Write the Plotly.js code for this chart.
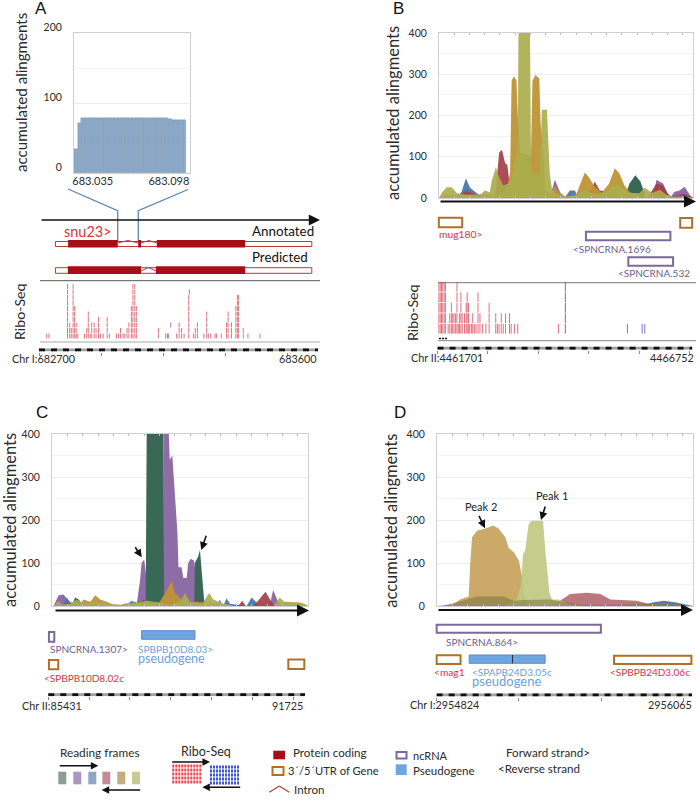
<!DOCTYPE html>
<html>
<head>
<meta charset="utf-8">
<script src="https://cdn.plot.ly/plotly-3.0.1.min.js"></script>
<style>body{margin:0;background:#fff}#chart{width:700px;height:801px}</style>
</head>
<body>
<div id="chart"></div>
<script>
// panel A, inset alignment counts (x = genome position)
const aCountX = [683021,683024,683027,683030,683033,683036,683039,683042,683045,683048,683051,683054,683057,683060,683063,683066,683069,683072,683075,683078,683081,683084,683087,683090,683093,683096,683099,683102,683105,683108,683111];
const aCountY = [35,72,79,79,79,79,79,79,79,79,79,79,79,79,79,79,79,79,79,79,79,79,79,79,78,78,77,76,76,76,76];

// panel B, reading frames (x = percent along the window)
const bPurpleX = [43.6,45.6,47.6,49,84.3,85.6,88.2,90.8,92.8,94.7,96.7,98.7,100];
const bPurpleY = [0,44,15,0,0,44,35,0,15,18,27,8,0];
const bBlueX = [7,8.9,10.6,12.2,14.8,16.8,18,49.5,51.5,53.5,54.8];
const bBlueY = [0,15,48,25,12,3,0,0,18,18,0];
const bGreenX = [73,75,77.3,79.3,81];
const bGreenY = [0,35,55,40,10];
const bRedX = [5.6,8.3,10.9,14.8,16.8,22,22.7,23.7,24.8,26,26.9,27.9,29.2,50,58,60,61.3,63.3,67.2,70,82,85.6,88.2,90.2,91.5,96,98.7,100];
const bRedY = [0,8,17,8,0,0,45,110,117,85,80,30,0,0,12,20,40,18,15,0,0,35,30,10,2,10,5,0];
const bGoldX = [0,3,8,25,27,28,28.6,29.5,30.5,31,32,35,36.2,36.8,38,39.5,40,41,42,44,45.6,47,50,54,56,57.4,59,61,64,67,69.2,71,73,75,80];
const bGoldY = [0,8,8,10,30,60,285,295,285,200,110,105,100,285,298,290,180,120,20,10,30,15,3,8,40,62,50,30,12,35,72,60,30,15,0];
const bOliveX = [0,1,3,5,7,11,16,18,20,20.7,22.4,23.3,25.3,27.3,28.6,30.1,31,31.3,35.8,36.2,36.8,39.7,40.5,42.5,43.6,44.5,46,50,54,57,60,63,67,69.5,72,75,79,81,84,87,89.5,92,97,100];
const bOliveY = [0,12,26,26,12,7,6,18,14,40,75,55,30,35,45,100,110,420,420,100,60,60,214,214,60,20,10,3,6,20,12,10,20,35,25,12,12,25,12,20,8,3,4,0];

// panel C, reading frames
const cPurpleX = [0.6,2.6,4.5,6.5,9,33,34.4,35,36,36.6,37,43.5,43.6,45.5,46,47,48,49,49.4,50.6,51.3,52.6,53.2,54.2,55.5,56.5,57.8,60,64.3,65.6,66.6,85,86.4,88.3,90];
const cPurpleY = [0,25,27,12,3,0,60,100,108,70,60,60,420,420,340,350,250,170,90,90,65,65,100,110,105,60,20,0,0,15,0,0,37,10,0];
const cBlueX = [3.9,5.8,7.4,29,31,33,34.4,66.9,68.2,69.5,76,78,79.9,81];
const cBlueY = [0,20,5,0,12,8,0,0,18,5,0,20,8,0];
const cGreenX = [7.8,9,10.4,11.7,36.6,36.8,37,43.5,43.8,44.8,55.6,55.8,57.1,57.8,58.6,59.4,60];
const cGreenY = [0,20,15,5,0,200,420,420,20,0,0,100,115,130,60,15,0];
const cRedX = [4.5,5.8,7.8,33.8,35.7,37.7,53.9,56.5,59,60.4,72.7,74.3,75.7,78.6,80.5,83.4,85.7,87];
const cRedY = [0,8,0,0,15,5,0,15,8,0,0,12,0,0,12,33,10,0];
const cGoldX = [10.4,12.3,15,16.9,18.8,21.4,24,26,28,31.8,37,41.6,44.2,46.8,48,50.6,53.9,57.8,63,65.6,70.8,89,90.9,94.2,96.8,100];
const cGoldY = [0,15,10,25,15,10,3,0,5,8,5,5,30,58,30,15,8,5,8,5,0,0,10,8,8,0];
const cOliveX = [0.6,2.6,3.9,7,9.7,12.3,18.8,26.6,31.8,37,42.2,46,50,52,53.9,59,61.4,63,67,69.5,70.8,86.4,89,91,95.5,98.7,100];
const cOliveY = [0,12,3,5,15,5,8,3,5,12,8,3,10,30,10,8,30,15,5,3,0,0,20,8,8,5,0];

// panel D, reading frames
const dBlueX = [80.7,84,88.5,93,97.7,100];
const dBlueY = [0,8,12,9,3,0];
const dRedX = [44,48.8,52,58.6,63.8,67.7,78,82,91,100];
const dRedY = [0,15,28,31,28,15,12,6,3,0];
const dTanX = [0,6.5,9,12.4,13,13.7,15.6,18.9,22,24,26.7,28,30,32,33.2,33.9,35,36.5];
const dTanY = [0,5,15,22,100,160,175,180,187,180,160,135,125,105,70,30,5,0];
const dPaleX = [26,31,32.8,33.6,34.5,35.8,36.8,41.4,42.3,43,43.9,45,47.5,52,57];
const dPaleY = [0,15,50,120,130,190,198,198,130,80,30,15,15,3,0];
const dDarkX = [2.6,9,15.6,26,30,33.9,44,50.8,57.3,65,78,84.6,91,100];
const dDarkY = [0,10,22,22,12,14,15,8,3,2,5,8,8,0];

// gene tracks, positions are bp from the start of each window
const aUtr = [53,880];
const aCdsAnnotated = [[94,254],[320,329],[380,665]];
const aIntronAnnotated = [[254,320],[329,380]];
const aCdsPredicted = [[93,329],[377,665]];
const aIntronPredicted = [[329,377]];
const aRiboPos = [25,32,92,99,104,110,115,120,125,147,154,159,165,170,178,184,192,198,207,220,227,250,257,263,277,284,290,298,303,309,314,385,417,444,452,460,468,483,498,504,511,541,546,554,568,573,588,605,610,621,635,640,644,659,674,713];
const aRiboDepth = [1,1,10,3,2,10,6,3,1,1,2,5,1,3,3,2,4,1,1,4,1,1,1,2,1,2,3,6,10,10,6,2,1,1,3,2,1,8,1,2,3,5,1,1,1,1,1,3,5,3,6,8,8,2,1,1];
const aRiboBluePos = [271,409,415,425,485,532];
const aRiboBlueRow = [1,1,1,3,9,1];

const bUtr = [[25,489],[4815,5051]];
const bNcrna = [[2944,4620],[3785,4673]];
const bRiboPos = [26,52,78,104,130,156,209,241,274,300,326,358,385,411,437,463,489,534,567,587,613,639,671,697,730,763,802,841,893,958,1023,1154,1186,1219,1264,1303,1349,1427,1460,1525,1590,2398];
const bRiboDepth = [5,5,5,5,5,5,1,2,3,2,2,2,5,1,2,4,2,2,3,4,3,1,1,2,1,1,4,2,1,1,3,2,1,1,2,1,2,2,1,1,1,1];
const bRiboGrayPos = [2535];
const bRiboGrayDepth = [5];
const bRiboBluePos = [3767,4060,4112];
const bRiboBlueRow = [1,1,1];

const cNcrna = [[16,147]];
const cPseudo = [[2288,3596]];
const cUtr = [[16,245],[5885,6277]];

const dNcrna = [[0,798]];
const dUtr = [[0,116],[862,1238]];
const dPseudo = [[158,527]];
const dPseudoMark = 368;

const W = 700, H = 801;
const fx = p => p / W;
const fy = p => 1 - p / H;

const PURPLE = 'rgba(136,100,160,0.95)', BLUE = 'rgba(72,120,170,0.95)', GREEN = 'rgba(58,104,86,1)';
const RED = 'rgba(165,62,72,0.92)', GOLD = 'rgba(190,148,52,0.95)', OLIVE = 'rgba(170,174,76,0.92)';
const TXT = '#2b2b2b', REDTXT = '#e2323c', PURTXT = '#6d5d8e', BLUTXT = '#6f9fd8';
const UTRC = '#b0702a', NCC = '#7a6a9c', PSEC = '#6fa5e0', CDSC = '#a50f15', INTC = '#c0392b';
const SANS = 'Lato, sans-serif';
const LETTER = {size: 17, color: '#111', family: 'Liberation Sans'};

const traces = [], shapes = [], annotations = [];
const layout = {
  width: W, height: H, margin: {l: 0, r: 0, t: 0, b: 0}, showlegend: false,
  paper_bgcolor: '#fff', plot_bgcolor: 'rgba(0,0,0,0)', bargap: 0,
  font: {family: SANS, color: TXT}, shapes, annotations
};

function text(str, x, y, size, color, anchor, extra) {
  annotations.push(Object.assign({
    text: str, x: fx(x), y: fy(y), xref: 'paper', yref: 'paper', showarrow: false,
    xanchor: anchor || 'left', yanchor: 'middle', borderpad: 0,
    font: {size, color: color || TXT, family: SANS}
  }, extra || {}));
}

function arrow(x0, y0, x1, y1, width, size) {
  annotations.push({
    text: '', x: fx(x1), y: fy(y1), xref: 'paper', yref: 'paper', showarrow: true,
    ax: x0 - x1, ay: y0 - y1, axref: 'pixel', ayref: 'pixel',
    arrowhead: 2, arrowsize: size || 1, arrowwidth: width || 2, arrowcolor: '#111', standoff: 0
  });
}

function paperRect(x0, y0, x1, y1, line, fill, lw) {
  shapes.push({type: 'rect', xref: 'paper', yref: 'paper', x0: fx(x0), x1: fx(x1), y0: fy(y0), y1: fy(y1),
    line: {color: line, width: lw === undefined ? 2 : lw}, fillcolor: fill});
}

function paperLine(x0, y0, x1, y1, color, width, dash) {
  shapes.push({type: 'line', xref: 'paper', yref: 'paper', x0: fx(x0), x1: fx(x1), y0: fy(y0), y1: fy(y1),
    line: {color, width, dash: dash || 'solid'}});
}

// signal panel: area traces over a framed plot
function signalAxes(n, x0, x1, y0, y1, yMax) {
  const s = n === 1 ? '' : n;
  layout['xaxis' + s] = {
    domain: [fx(x0), fx(x1)], range: [0, 100], anchor: 'y' + s, showgrid: false, zeroline: false,
    showticklabels: false, ticks: 'inside', ticklen: 2, tickcolor: '#bbb', dtick: 6,
    showline: true, linecolor: '#cfcfcf', mirror: 'ticks'
  };
  layout['yaxis' + s] = {
    domain: [fy(y1), fy(y0)], range: [0, yMax], anchor: 'x' + s, tickvals: [0,100,200,300,400],
    ticktext: ['0','100','200','300','400'], ticks: '', ticklabelstandoff: 9, gridcolor: '#ececec', zeroline: false,
    minor: {dtick: 50, showgrid: true, gridcolor: '#f3f3f3'},
    showline: true, linecolor: '#cfcfcf', mirror: true, tickfont: {size: 10.5, color: TXT, family: SANS}
  };
}

function area(n, xs, ys, color) {
  const s = n === 1 ? '' : n;
  traces.push({type: 'scatter', mode: 'lines', x: xs, y: ys, xaxis: 'x' + s, yaxis: 'y' + s,
    fill: 'tozeroy', fillcolor: color, line: {width: 0}, hoverinfo: 'skip'});
}

// gene track: genome axis under the ribo-seq rows and the ruler
function trackAxes(n, x0, x1, span, rulerY, topY, baseY, rowH, dtick) {
  const pad = 8, perPx = span / (x1 - x0);
  const bottom = rulerY + 1.5;
  const toRow = p => 1 + (baseY - p) / rowH;
  layout['xaxis' + n] = {
    domain: [fx(x0 - pad), fx(x1 + pad)], range: [-pad * perPx, span + pad * perPx], anchor: 'y' + n,
    showgrid: false, zeroline: false, showticklabels: false, ticks: 'outside', ticklen: 3,
    tickcolor: '#888', tick0: 0, dtick, showline: false
  };
  layout['yaxis' + n] = {
    domain: [fy(bottom), fy(topY)], range: [toRow(bottom), toRow(topY)], anchor: 'x' + n,
    visible: false, showgrid: false, zeroline: false
  };
  const rulerAt = toRow(rulerY);
  traces.push({type: 'scatter', mode: 'lines', x: [0, span], y: [rulerAt, rulerAt], xaxis: 'x' + n, yaxis: 'y' + n,
    line: {color: '#a0a0a0', width: 3}, hoverinfo: 'skip'});
  traces.push({type: 'scatter', mode: 'lines', x: [0, span], y: [rulerAt, rulerAt], xaxis: 'x' + n, yaxis: 'y' + n,
    line: {color: '#111', width: 3, dash: '6px,6px'}, hoverinfo: 'skip'});
}

function riboStack(n, pos, depth, color, size) {
  const xs = [], ys = [];
  pos.forEach((p, i) => { for (let r = 1; r <= depth[i]; r++) { xs.push(p); ys.push(r); } });
  riboPoints(n, xs, ys, color, size);
}

function riboPoints(n, xs, ys, color, size) {
  traces.push({type: 'scatter', mode: 'markers', x: xs, y: ys, xaxis: 'x' + n, yaxis: 'y' + n, cliponaxis: false,
    marker: {symbol: 'line-ns', size, color, line: {color, width: 1}}, hoverinfo: 'skip'});
}

function geneBox(n, range, y0, y1, line, fill, lw) {
  shapes.push({type: 'rect', xref: 'x' + n, yref: 'paper', x0: range[0], x1: range[1], y0: fy(y1), y1: fy(y0),
    line: {color: line, width: lw}, fillcolor: fill});
}

function intron(n, range, yBase, yPeak) {
  const mid = (range[0] + range[1]) / 2;
  shapes.push({type: 'line', xref: 'x' + n, yref: 'paper', x0: range[0], x1: mid, y0: fy(yBase), y1: fy(yPeak), line: {color: INTC, width: 1}});
  shapes.push({type: 'line', xref: 'x' + n, yref: 'paper', x0: mid, x1: range[1], y0: fy(yPeak), y1: fy(yBase), line: {color: INTC, width: 1}});
}

// ---------- panel A ----------
signalAxes(1, 74, 190, 33, 173, 200);
layout.xaxis.range = [683019.5, 683115.5];
layout.xaxis.tickvals = [683035, 683098];
layout.xaxis.ticktext = ['683.035', '683.098'];
layout.xaxis.showticklabels = true;
layout.xaxis.ticks = '';
layout.xaxis.mirror = true;
layout.xaxis.ticklabelstandoff = -2;
layout.xaxis.tickfont = {size: 11, color: TXT, family: SANS};
layout.yaxis.tickvals = [0, 100, 200];
layout.yaxis.ticktext = ['0', '100', '200'];
layout.yaxis.ticklabelshift = -6;
traces.push({type: 'bar', x: aCountX, y: aCountY, width: 3, xaxis: 'x', yaxis: 'y',
  marker: {color: '#8ba8c6', line: {color: 'rgba(120,146,178,0.7)', width: 0.5}}, hoverinfo: 'skip'});

trackAxes(2, 39, 318, 900, 350, 281, 336, 5.5, 200);
riboStack(2, aRiboPos, aRiboDepth, '#e4707c', 3.5);
riboPoints(2, aRiboBluePos, aRiboBlueRow, '#7f83d8', 3.5);

// zoom lines from the inset down to the gene
shapes.push({type: 'path', xref: 'paper', yref: 'paper', line: {color: '#5b86b5', width: 1.3},
  path: `M${fx(68)},${fy(189)} L${fx(117.7)},${fy(210.7)} L${fx(117.7)},${fy(241.7)}`});
shapes.push({type: 'path', xref: 'paper', yref: 'paper', line: {color: '#5b86b5', width: 1.3},
  path: `M${fx(188)},${fy(189.5)} L${fx(138.3)},${fy(210.7)} L${fx(138.3)},${fy(241.7)}`});
arrow(40, 220, 320, 220, 1.6, 1.4);

geneBox(2, aUtr, 241.5, 246.5, INTC, '#fff', 1);
aCdsAnnotated.forEach(c => geneBox(2, c, 240, 247.5, CDSC, CDSC, 0));
aIntronAnnotated.forEach(c => intron(2, c, 243, 240.5));
geneBox(2, aUtr, 267.7, 273.3, INTC, '#fff', 1);
aCdsPredicted.forEach(c => geneBox(2, c, 266.3, 274, CDSC, CDSC, 0));
aIntronPredicted.forEach(c => intron(2, c, 271, 267.5));
paperLine(40, 280.7, 320, 280.7, '#555', 1);
paperLine(40, 342, 320, 342, '#aaa', 1);

text('A', 41, 8, 17, '#111', 'center', {font: LETTER});
text('accumulated alingments', 21, 93, 15.1, TXT, 'center', {textangle: -90});
text('snu23&gt;', 63, 231, 14.5, REDTXT);
text('Annotated', 315, 231.5, 13.4, '#111', 'right');
text('Predicted', 309, 257, 13.3, '#111', 'right');
text('Ribo-Seq', 19, 312, 14.2, TXT, 'center', {textangle: -90});
text('Chr I:682700', 11, 358.5, 10.8);
text('683600', 318, 358.5, 10.8, TXT, 'right');

// ---------- panel B ----------
signalAxes(3, 439, 693, 33, 198, 400);
area(3, bPurpleX, bPurpleY, PURPLE);
area(3, bBlueX, bBlueY, BLUE);
area(3, bGreenX, bGreenY, GREEN);
area(3, bRedX, bRedY, RED);
area(3, bGoldX, bGoldY, GOLD);
area(3, bOliveX, bOliveY, OLIVE);
arrow(439, 201.5, 696, 201.5, 2, 1.2);

trackAxes(4, 437.7, 696, 5051, 348.3, 282.7, 328.7, 10.5, 1000);
riboStack(4, bRiboPos, bRiboDepth, '#e4707c', 7);
riboStack(4, bRiboGrayPos, bRiboGrayDepth, '#777', 7);
riboPoints(4, bRiboBluePos, bRiboBlueRow, '#7a78c8', 7);
paperLine(438, 282.7, 696, 282.7, '#777', 1);
paperLine(438, 340.7, 696, 340.7, '#888', 1);
paperLine(439, 338.5, 448, 338.5, '#111', 1.5, '2px,1px');

geneBox(4, bUtr[0], 217.7, 227.3, UTRC, '#fff', 2);
geneBox(4, bUtr[1], 218, 227.7, UTRC, '#fff', 2);
geneBox(4, bNcrna[0], 231.7, 240.3, NCC, '#fff', 2);
geneBox(4, bNcrna[1], 257.3, 265.7, NCC, '#fff', 2);

text('B', 399, 8, 17, '#111', 'center', {font: LETTER});
text('accumulated alingments', 393, 113, 16.5, TXT, 'center', {textangle: -90});
text('mug180&gt;', 438, 234, 10.3, REDTXT);
text('&lt;SPNCRNA.1696', 611.7, 249, 10, PURTXT, 'center');
text('&lt;SPNCRNA.532', 690.7, 272.7, 10, PURTXT, 'right');
text('Ribo-Seq', 412, 312, 14.2, TXT, 'center', {textangle: -90});
text('Chr II:4461701', 410, 357.7, 10.8);
text('4466752', 695, 357.7, 10.8, TXT, 'right');

// ---------- panel C ----------
signalAxes(5, 52, 308, 434, 606, 400);
area(5, cPurpleX, cPurpleY, PURPLE);
area(5, cBlueX, cBlueY, BLUE);
area(5, cGreenX, cGreenY, GREEN);
area(5, cRedX, cRedY, RED);
area(5, cGoldX, cGoldY, GOLD);
area(5, cOliveX, cOliveY, OLIVE);
arrow(54, 610.6, 309, 610.6, 2, 1.2);
arrow(134.3, 545.7, 141.7, 557.3, 1.6, 1);
arrow(206.7, 534.3, 201.3, 550, 1.6, 1);

trackAxes(6, 48.3, 305, 6294, 694.7, 690, 694.7, 1, 1000);
geneBox(6, cNcrna[0], 632, 641.7, NCC, '#fff', 2);
geneBox(6, cPseudo[0], 630.7, 639.3, '#5a8cc6', PSEC, 1);
geneBox(6, cUtr[0], 660, 669.3, UTRC, '#fff', 2);
geneBox(6, cUtr[1], 659.5, 669, UTRC, '#fff', 2);

text('C', 41.7, 412.7, 17, '#111', 'center', {font: LETTER});
text('accumulated alingments', 10, 520, 16.5, TXT, 'center', {textangle: -90});
text('SPNCRNA.1307&gt;', 48.7, 649, 10, PURTXT);
text('SPBPB10D8.03&gt;', 136.7, 648.7, 10, BLUTXT);
text('pseudogene', 136.7, 658.5, 12.5, BLUTXT);
text('&lt;SPBPB10D8.02c', 42.7, 678.3, 10, REDTXT);
text('Chr II:85431', 21.3, 705, 10.8);
text('91725', 304, 705, 10.8, TXT, 'right');

// ---------- panel D ----------
signalAxes(7, 437, 693, 434, 606, 400);
area(7, dBlueX, dBlueY, 'rgba(72,110,170,0.9)');
area(7, dRedX, dRedY, 'rgba(182,104,112,0.9)');
area(7, dTanX, dTanY, 'rgba(200,166,100,0.97)');
area(7, dPaleX, dPaleY, 'rgba(192,200,130,0.92)');
area(7, dDarkX, dDarkY, 'rgba(128,122,60,0.6)');
arrow(437, 610, 693, 610, 2, 1.2);
arrow(478.3, 514.3, 485, 528.3, 1.6, 1);
arrow(545.7, 505, 541, 520, 1.6, 1);
text('Peak 2', 481, 506, 11, '#222', 'center');
text('Peak 1', 552.3, 496, 11, '#222', 'center');

trackAxes(8, 436.7, 693.3, 1241, 695, 690, 695, 1, 400);
geneBox(8, dNcrna[0], 624.7, 632.7, NCC, '#fff', 2);
geneBox(8, dUtr[0], 655.3, 664, UTRC, '#fff', 2);
geneBox(8, dUtr[1], 655.7, 664, UTRC, '#fff', 2);
geneBox(8, dPseudo[0], 655, 663.3, '#5a8cc6', PSEC, 1);
geneBox(8, [dPseudoMark - 2, dPseudoMark + 2], 655, 663.3, '#111', '#111', 0);

text('D', 400, 412.7, 17, '#111', 'center', {font: LETTER});
text('accumulated alingments', 391, 520.7, 16.5, TXT, 'center', {textangle: -90});
text('SPNCRNA.864&gt;', 445, 641.7, 10, PURTXT);
text('&lt;mag1', 433.3, 672, 10.2, REDTXT);
text('&lt;SPAPB24D3.05c', 470.7, 671.5, 10, BLUTXT);
text('pseudogene', 470.7, 681, 13, BLUTXT);
text('&lt;SPBPB24D3.06c', 690.7, 672, 10, REDTXT, 'right');
text('Chr I:2954824', 409.3, 704.7, 10.8);
text('2956065', 693.3, 704.7, 10.8, TXT, 'right');

// ---------- key ----------
text('Reading frames', 100, 752.7, 11.8, TXT, 'center');
arrow(58.3, 765.7, 98.3, 765.7, 1.5, 1);
arrow(141.7, 790, 101.7, 790, 1.5, 1);
[[58.3,'#8aa092'],[73.3,'#a898bf'],[88.3,'#8ea8c4'],[102.3,'#c08e96'],[117.3,'#c4ad7e'],[132,'#c4cc94']].forEach(s =>
  paperRect(s[0], 771.7, s[0] + 8, 784.3, s[1], s[1], 0));

text('Ribo-Seq', 205.7, 751.7, 12.5, TXT, 'center');
[766, 770, 774, 778, 782].forEach(y => {
  paperLine(172.3, y, 202.3, y, '#e8454f', 3, '2px,1px');
  paperLine(210, y + 1, 239, y + 1, '#3d55d8', 3, '2px,1px');
});
arrow(170.7, 762, 210, 762, 1.5, 1);
arrow(241.7, 787.3, 202.3, 787.3, 1.5, 1);

paperRect(273.3, 750.7, 285, 759.3, CDSC, CDSC, 0);
text('Protein coding', 291.7, 752.7, 11.6);
paperRect(272.5, 767, 283.5, 775, UTRC, '#fff', 2);
text('3´/5´UTR of Gene', 287.3, 770.7, 11.2);
paperLine(269.3, 792.3, 279.3, 786, '#a8483e', 1.3);
paperLine(279.3, 786, 289.3, 792.3, '#a8483e', 1.3);
text('Intron', 293.3, 789, 11.5);

paperRect(396.5, 752, 406.5, 758.5, NCC, '#fff', 2);
text('ncRNA', 411.7, 755, 11);
paperRect(395.7, 764.3, 406.7, 775, '#6a9ad6', PSEC, 0);
text('Pseudogene', 411.7, 770.7, 11.5);

text('Forward strand&gt;', 505, 752.7, 11.6);
text('&lt;Reverse strand', 496.7, 768.7, 11.6);

Plotly.newPlot('chart', traces, layout, {displayModeBar: false});
</script>
</body>
</html>
